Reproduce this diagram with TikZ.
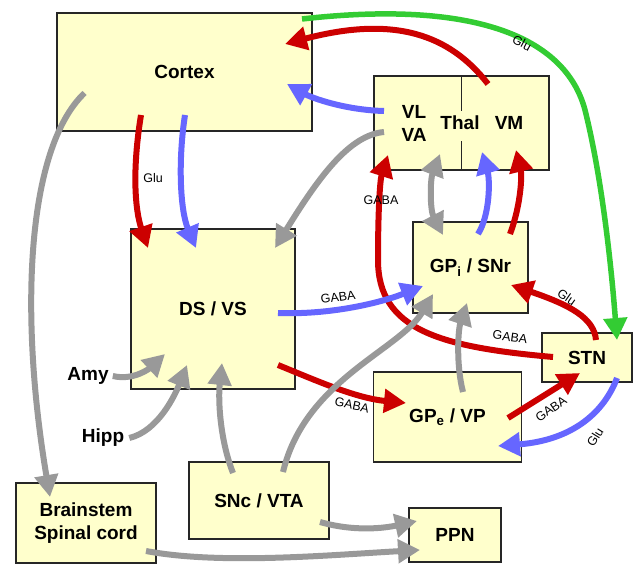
\documentclass[tikz,border=0pt]{standalone}
\usepackage{fontspec}
\setmainfont{Liberation Sans}
\usetikzlibrary{arrows.meta}
\definecolor{boxyellow}{HTML}{FFFFCC}
\definecolor{gabared}{HTML}{CC0000}
\definecolor{glublue}{HTML}{6666FF}
\definecolor{modgray}{HTML}{999999}
\definecolor{glugreen}{HTML}{33CC33}
\tikzset{region/.style={draw=black!85,fill=boxyellow,line width=1.2pt,inner sep=0,
        font=\bfseries\fontsize{19}{23}\selectfont,align=center},
    bigtext/.style={font=\bfseries\fontsize{19}{23}\selectfont,align=center,inner sep=2pt},
    transmitter/.style={font=\fontsize{12.5}{14}\selectfont,inner sep=0},
    tract/.style={line width=6pt,-{Triangle[length=22pt,width=23pt]}},
    redtract/.style={tract,gabared},
    bluetract/.style={tract,glublue},
    graytract/.style={tract,modgray},
    greentract/.style={tract,glugreen,line width=5.5pt}
}

\begin{document}
\begin{tikzpicture}[x=1pt,y=-1pt]

\useasboundingbox (0,0) rectangle (636,564);

% regions

\node (cortex) [region,minimum width=255pt,minimum height=118pt] at (184.5,72) {Cortex};
\node (thal) [region,minimum width=175pt,minimum height=94pt] at (461.5,123) {};
\node (dsvs) [region,minimum width=164pt,minimum height=160pt] at (213,309) {DS / VS};
\node (gpi) [region,minimum width=115pt,minimum height=91pt] at (470.5,267.5) {GP\textsubscript{i} / SNr};
\node (stn) [region,minimum width=90pt,minimum height=49pt] at (587,357.5) {STN};
\node (gpe) [region,minimum width=148pt,minimum height=90pt] at (447.5,417) {GP\textsubscript{e} / VP};
\node (snc) [region,minimum width=140pt,minimum height=77pt] at (259,500.5) {SNc / VTA};
\node (brainstem) [region,minimum width=140pt,minimum height=80pt] at (86,523) {Brainstem\\Spinal cord};
\node (ppn) [region,minimum width=92pt,minimum height=54pt] at (455,535) {PPN};

% thalamus inside

\draw [black!85,line width=1.2pt] (thal.north) -- ++(0,36);
\draw [black!85,line width=1.2pt] (thal.south) -- ++(0,-30);
\node (thalvl) [bigtext] at (414,123.5) {VL\\VA};
\node (thalname) [bigtext] at (460,123) {Thal};
\node (thalvm) [bigtext] at (509,123) {VM};

\node (amy) [bigtext] at (88,376) {Amy};
\node (hipp) [bigtext] at (103,438) {Hipp};

% indirect loop back to thalamus

\draw [redtract] ([shift={(-34,-0.5)}]stn.center) .. controls +(-113,-10) and +(0,70) .. ([shift={(-92.5,-7.5)}]gpi.center)
    .. controls +(0,-50) and +(-8,25) .. ([shift={(-73.5,32)}]thal.center);

% cortex out

\draw [graytract] ([shift={(-100,21)}]cortex.center) .. controls +(-59.5,57) and +(-30,-177) .. ([shift={(-36,-26)}]brainstem.center);
\draw [redtract] ([shift={(-43.5,43)}]cortex.center) .. controls +(-9,55) and +(-13,-38) .. ([shift={(-65,-61)}]dsvs.center);
\draw [bluetract] ([shift={(0.5,43)}]cortex.center) .. controls +(-7,45) and +(-16,-38) .. ([shift={(-17,-61)}]dsvs.center);
\draw [greentract] ([shift={(117.5,-53)}]cortex.center) .. controls +(168,-19) and +(-20,-75) .. ([shift={(-2,-247.5)}]stn.center)
    .. controls +(15,60) and +(-7,-90) .. ([shift={(30,-17.5)}]stn.center);

% thalamus out

\draw [redtract] ([shift={(26.5,-39)}]thal.center) .. controls +(-38,-49) and +(110,-29) .. ([shift={(100.5,-28)}]cortex.center);
\draw [bluetract] ([shift={(-77.5,-12)}]thal.center) .. controls +(-39,-1) and +(25,14) .. ([shift={(102.5,12)}]cortex.center);
\draw [graytract] ([shift={(-77.5,9)}]thal.center) .. controls +(-34,3) and +(45,-73) .. ([shift={(62,-61)}]dsvs.center);
\draw [modgray,line width=6pt,{Triangle[length=22pt,width=23pt]}-{Triangle[length=22pt,width=23pt]}]
    ([shift={(-21.5,31)}]thal.center) .. controls +(-10,26) and +(-13,-25) .. ([shift={(-27.5,-32.5)}]gpi.center);

% pallidum to thalamus

\draw [bluetract] ([shift={(7.5,-33.5)}]gpi.center) .. controls +(12,-19) and +(8,28) .. ([shift={(20.5,29)}]thal.center);
\draw [redtract] ([shift={(39.5,-33.5)}]gpi.center) .. controls +(11,-29) and +(6,25) .. ([shift={(54.5,27)}]thal.center);

% striatum out

\draw [bluetract] ([shift={(65,4)}]dsvs.center) .. controls +(52,2) and +(-43,17) .. ([shift={(-47.5,18.5)}]gpi.center);
\draw [redtract] ([shift={(65,56)}]dsvs.center) .. controls +(37,15) and +(-51,-5) .. ([shift={(-41.5,-14)}]gpe.center);

% dopamine and limbic input

\draw [graytract] ([shift={(-26,-27.5)}]snc.center) .. controls +(-13,-33) and +(-4,37) .. ([shift={(9,54)}]dsvs.center);
\draw [graytract] ([shift={(24,-28.5)}]snc.center) .. controls +(22,-92) and +(-33,56) .. ([shift={(-37.5,26.5)}]gpi.center);
\draw [graytract] ([xshift=2pt]amy.east) .. controls +(21,5) and +(-15,14) .. ([shift={(-48,45)}]dsvs.center);
\draw [graytract] ([xshift=3pt]hipp.east) .. controls +(29,-7) and +(-12,30) .. ([shift={(-26,56)}]dsvs.center);

% pallidum and STN

\draw [graytract] ([shift={(15.5,-25)}]gpe.center) .. controls +(-7,-27) and +(-9,27) .. ([shift={(-3.5,35.5)}]gpi.center);
\draw [redtract] ([shift={(60.5,1)}]gpe.center) -- ([shift={(-7,15.5)}]stn.center);
\draw [bluetract] ([shift={(30,20.5)}]stn.center) .. controls +(-12,32) and +(77,-6) .. ([shift={(50.5,29)}]gpe.center);
\draw [redtract] ([shift={(9,-17.5)}]stn.center) .. controls +(-2,-22) and +(59,20) .. ([shift={(40.5,17.5)}]gpi.center);

% to PPN

\draw [graytract] ([shift={(61,21.5)}]snc.center) .. controls +(35,10) and +(-32,7) .. ([shift={(-38,-14)}]ppn.center);
\draw [graytract] ([shift={(60,28)}]brainstem.center) .. controls +(74,14) and +(-90,5) .. ([shift={(-35,15)}]ppn.center);

% transmitters

\node (gluctx) [transmitter] at (153,178) {Glu};
\node (glugreen) [transmitter,rotate=-28] at (522,43) {Glu};
\node (gabathal) [transmitter] at (381,200) {GABA};
\node (gabastn) [transmitter,rotate=-8] at (510,337) {GABA};
\node (gabagpi) [transmitter,rotate=8] at (338,297) {GABA};
\node (gabagpe) [transmitter,rotate=-12] at (352,405) {GABA};
\node (glustngpi) [transmitter,rotate=-35] at (567,297) {Glu};
\node (gabagpestn) [transmitter,rotate=35] at (551,409) {GABA};
\node (glustngpe) [transmitter,rotate=58] at (595,437) {Glu};

\end{tikzpicture}
\end{document}
